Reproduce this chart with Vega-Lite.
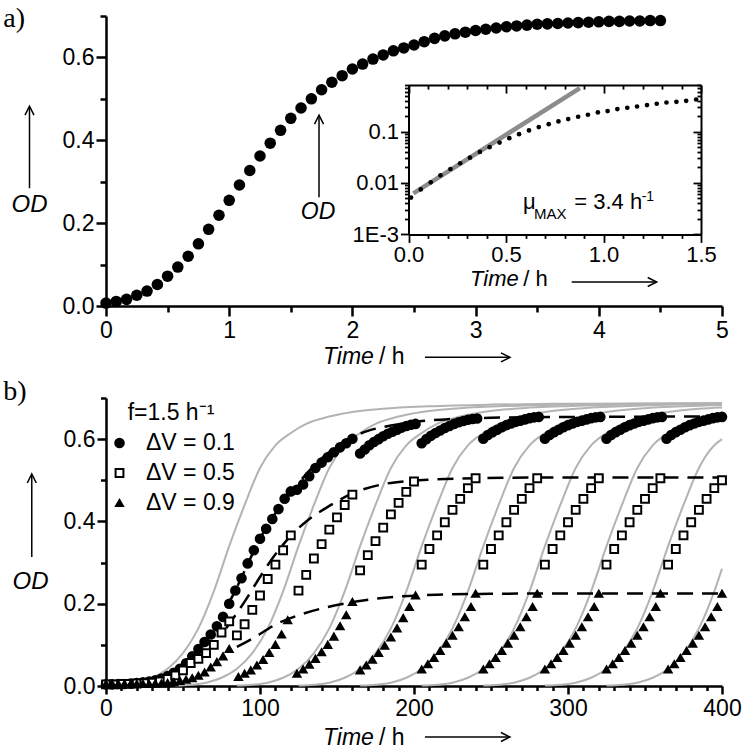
{
"$schema":"https://vega.github.io/schema/vega-lite/v6.json",
"background":"white",
"padding":{"left":3,"top":5,"right":0,"bottom":0},
"spacing":8,
"resolve":{"scale":{"shape":"independent","fill":"independent","size":"independent","stroke":"independent"},"legend":{"shape":"independent","fill":"independent","size":"independent","stroke":"independent"}},
"config":{
 "view":{"stroke":null},
 "axis":{"domainColor":"black","domainWidth":2.5,"tickColor":"black","tickWidth":2.5,"labelColor":"black","labelFont":"Liberation Sans","labelFontSize":23,"grid":false,"labelFlush":false,"labelOverlap":false,"labelPadding":2},
 "legend":{"titleFont":"Liberation Sans","titleFontSize":23,"titleFontWeight":"normal","titleColor":"black","labelFont":"Liberation Sans","labelFontSize":23,"labelColor":"black","symbolStrokeColor":"black","symbolStrokeWidth":2,"rowPadding":6,"titlePadding":7,"labelOffset":15,"padding":0}
},
"datasets":{
"main":[{"t":0,"od":0.007},{"t":0.083,"od":0.011},{"t":0.167,"od":0.016},{"t":0.25,"od":0.026},{"t":0.333,"od":0.036},{"t":0.417,"od":0.052},{"t":0.5,"od":0.072},{"t":0.583,"od":0.094},{"t":0.667,"od":0.12},{"t":0.75,"od":0.15},{"t":0.833,"od":0.185},{"t":0.917,"od":0.219},{"t":1,"od":0.255},{"t":1.083,"od":0.292},{"t":1.167,"od":0.327},{"t":1.25,"od":0.362},{"t":1.333,"od":0.393},{"t":1.417,"od":0.424},{"t":1.5,"od":0.453},{"t":1.583,"od":0.478},{"t":1.667,"od":0.5},{"t":1.75,"od":0.522},{"t":1.833,"od":0.54},{"t":1.917,"od":0.556},{"t":2,"od":0.572},{"t":2.083,"od":0.584},{"t":2.167,"od":0.596},{"t":2.25,"od":0.606},{"t":2.333,"od":0.616},{"t":2.417,"od":0.623},{"t":2.5,"od":0.63},{"t":2.583,"od":0.638},{"t":2.667,"od":0.646},{"t":2.75,"od":0.652},{"t":2.833,"od":0.657},{"t":2.917,"od":0.661},{"t":3,"od":0.665},{"t":3.083,"od":0.668},{"t":3.167,"od":0.671},{"t":3.25,"od":0.674},{"t":3.333,"od":0.676},{"t":3.417,"od":0.678},{"t":3.5,"od":0.68},{"t":3.583,"od":0.681},{"t":3.667,"od":0.682},{"t":3.75,"od":0.683},{"t":3.833,"od":0.684},{"t":3.917,"od":0.685},{"t":4,"od":0.686},{"t":4.083,"od":0.687},{"t":4.167,"od":0.687},{"t":4.25,"od":0.688},{"t":4.333,"od":0.688},{"t":4.417,"od":0.689},{"t":4.5,"od":0.689}],
"inset":[{"t":0.013,"od":0.0052},{"t":0.063,"od":0.0075},{"t":0.114,"od":0.0103},{"t":0.164,"od":0.0141},{"t":0.215,"od":0.0187},{"t":0.265,"od":0.0242},{"t":0.315,"od":0.0311},{"t":0.366,"od":0.0402},{"t":0.416,"od":0.0497},{"t":0.467,"od":0.0611},{"t":0.517,"od":0.0743},{"t":0.567,"od":0.0889},{"t":0.618,"od":0.105},{"t":0.668,"od":0.122},{"t":0.719,"od":0.139},{"t":0.769,"od":0.157},{"t":0.819,"od":0.175},{"t":0.87,"od":0.194},{"t":0.92,"od":0.212},{"t":0.971,"od":0.235},{"t":1.021,"od":0.25},{"t":1.071,"od":0.274},{"t":1.122,"od":0.29},{"t":1.172,"od":0.307},{"t":1.223,"od":0.327},{"t":1.273,"od":0.347},{"t":1.323,"od":0.367},{"t":1.374,"od":0.379},{"t":1.424,"od":0.396},{"t":1.475,"od":0.42}],
"fit":[{"t":0.025,"od":0.0063},{"t":0.879,"od":0.7}],
"gray":[
{"c":0,"t":0,"od":0.001},{"c":0,"t":10,"od":0.003},{"c":0,"t":20,"od":0.008},{"c":0,"t":30,"od":0.02},{"c":0,"t":40,"od":0.042},{"c":0,"t":50,"od":0.08},{"c":0,"t":60,"od":0.14},{"c":0,"t":70,"od":0.23},{"c":0,"t":80,"od":0.34},{"c":0,"t":90,"od":0.44},{"c":0,"t":100,"od":0.53},{"c":0,"t":110,"od":0.585},{"c":0,"t":120,"od":0.615},{"c":0,"t":130,"od":0.637},{"c":0,"t":145,"od":0.655},{"c":0,"t":160,"od":0.666},{"c":0,"t":180,"od":0.674},{"c":0,"t":210,"od":0.68},{"c":0,"t":250,"od":0.684},{"c":0,"t":300,"od":0.686},{"c":0,"t":400,"od":0.687},
{"c":1,"t":45,"od":0.001},{"c":1,"t":55,"od":0.003},{"c":1,"t":65,"od":0.008},{"c":1,"t":75,"od":0.02},{"c":1,"t":85,"od":0.042},{"c":1,"t":95,"od":0.08},{"c":1,"t":105,"od":0.14},{"c":1,"t":115,"od":0.23},{"c":1,"t":125,"od":0.34},{"c":1,"t":135,"od":0.44},{"c":1,"t":145,"od":0.53},{"c":1,"t":155,"od":0.585},{"c":1,"t":165,"od":0.615},{"c":1,"t":175,"od":0.637},{"c":1,"t":190,"od":0.655},{"c":1,"t":205,"od":0.666},{"c":1,"t":225,"od":0.674},{"c":1,"t":255,"od":0.68},{"c":1,"t":295,"od":0.684},{"c":1,"t":345,"od":0.686},{"c":1,"t":400,"od":0.687},
{"c":2,"t":85,"od":0.001},{"c":2,"t":95,"od":0.003},{"c":2,"t":105,"od":0.008},{"c":2,"t":115,"od":0.02},{"c":2,"t":125,"od":0.042},{"c":2,"t":135,"od":0.08},{"c":2,"t":145,"od":0.14},{"c":2,"t":155,"od":0.23},{"c":2,"t":165,"od":0.34},{"c":2,"t":175,"od":0.44},{"c":2,"t":185,"od":0.53},{"c":2,"t":195,"od":0.585},{"c":2,"t":205,"od":0.615},{"c":2,"t":215,"od":0.637},{"c":2,"t":230,"od":0.655},{"c":2,"t":245,"od":0.666},{"c":2,"t":265,"od":0.674},{"c":2,"t":295,"od":0.68},{"c":2,"t":335,"od":0.684},{"c":2,"t":385,"od":0.686},{"c":2,"t":400,"od":0.686},
{"c":3,"t":125,"od":0.001},{"c":3,"t":135,"od":0.003},{"c":3,"t":145,"od":0.008},{"c":3,"t":155,"od":0.02},{"c":3,"t":165,"od":0.042},{"c":3,"t":175,"od":0.08},{"c":3,"t":185,"od":0.14},{"c":3,"t":195,"od":0.23},{"c":3,"t":205,"od":0.34},{"c":3,"t":215,"od":0.44},{"c":3,"t":225,"od":0.53},{"c":3,"t":235,"od":0.585},{"c":3,"t":245,"od":0.615},{"c":3,"t":255,"od":0.637},{"c":3,"t":270,"od":0.655},{"c":3,"t":285,"od":0.666},{"c":3,"t":305,"od":0.674},{"c":3,"t":335,"od":0.68},{"c":3,"t":375,"od":0.684},{"c":3,"t":400,"od":0.685},
{"c":4,"t":165,"od":0.001},{"c":4,"t":175,"od":0.003},{"c":4,"t":185,"od":0.008},{"c":4,"t":195,"od":0.02},{"c":4,"t":205,"od":0.042},{"c":4,"t":215,"od":0.08},{"c":4,"t":225,"od":0.14},{"c":4,"t":235,"od":0.23},{"c":4,"t":245,"od":0.34},{"c":4,"t":255,"od":0.44},{"c":4,"t":265,"od":0.53},{"c":4,"t":275,"od":0.585},{"c":4,"t":285,"od":0.615},{"c":4,"t":295,"od":0.637},{"c":4,"t":310,"od":0.655},{"c":4,"t":325,"od":0.666},{"c":4,"t":345,"od":0.674},{"c":4,"t":375,"od":0.68},{"c":4,"t":400,"od":0.683},
{"c":5,"t":205,"od":0.001},{"c":5,"t":215,"od":0.003},{"c":5,"t":225,"od":0.008},{"c":5,"t":235,"od":0.02},{"c":5,"t":245,"od":0.042},{"c":5,"t":255,"od":0.08},{"c":5,"t":265,"od":0.14},{"c":5,"t":275,"od":0.23},{"c":5,"t":285,"od":0.34},{"c":5,"t":295,"od":0.44},{"c":5,"t":305,"od":0.53},{"c":5,"t":315,"od":0.585},{"c":5,"t":325,"od":0.615},{"c":5,"t":335,"od":0.637},{"c":5,"t":350,"od":0.655},{"c":5,"t":365,"od":0.666},{"c":5,"t":385,"od":0.674},{"c":5,"t":400,"od":0.677},
{"c":6,"t":245,"od":0.001},{"c":6,"t":255,"od":0.003},{"c":6,"t":265,"od":0.008},{"c":6,"t":275,"od":0.02},{"c":6,"t":285,"od":0.042},{"c":6,"t":295,"od":0.08},{"c":6,"t":305,"od":0.14},{"c":6,"t":315,"od":0.23},{"c":6,"t":325,"od":0.34},{"c":6,"t":335,"od":0.44},{"c":6,"t":345,"od":0.53},{"c":6,"t":355,"od":0.585},{"c":6,"t":365,"od":0.615},{"c":6,"t":375,"od":0.637},{"c":6,"t":390,"od":0.655},{"c":6,"t":400,"od":0.662},
{"c":7,"t":285,"od":0.001},{"c":7,"t":295,"od":0.003},{"c":7,"t":305,"od":0.008},{"c":7,"t":315,"od":0.02},{"c":7,"t":325,"od":0.042},{"c":7,"t":335,"od":0.08},{"c":7,"t":345,"od":0.14},{"c":7,"t":355,"od":0.23},{"c":7,"t":365,"od":0.34},{"c":7,"t":375,"od":0.44},{"c":7,"t":385,"od":0.53},{"c":7,"t":395,"od":0.585},{"c":7,"t":400,"od":0.6},
{"c":8,"t":325,"od":0.001},{"c":8,"t":335,"od":0.003},{"c":8,"t":345,"od":0.008},{"c":8,"t":355,"od":0.02},{"c":8,"t":365,"od":0.042},{"c":8,"t":375,"od":0.08},{"c":8,"t":385,"od":0.14},{"c":8,"t":395,"od":0.23},{"c":8,"t":400,"od":0.285}
],
"dash":[
{"d":1,"t":78,"od":0.19},{"d":1,"t":84,"od":0.232},{"d":1,"t":90,"od":0.28},{"d":1,"t":100,"od":0.358},{"d":1,"t":110,"od":0.42},{"d":1,"t":120,"od":0.47},{"d":1,"t":130,"od":0.515},{"d":1,"t":140,"od":0.553},{"d":1,"t":150,"od":0.583},{"d":1,"t":160,"od":0.605},{"d":1,"t":170,"od":0.62},{"d":1,"t":185,"od":0.633},{"d":1,"t":200,"od":0.642},{"d":1,"t":220,"od":0.648},{"d":1,"t":250,"od":0.652},{"d":1,"t":300,"od":0.654},{"d":1,"t":400,"od":0.655},
{"d":2,"t":78,"od":0.14},{"d":2,"t":90,"od":0.205},{"d":2,"t":100,"od":0.265},{"d":2,"t":110,"od":0.32},{"d":2,"t":120,"od":0.365},{"d":2,"t":130,"od":0.4},{"d":2,"t":143,"od":0.433},{"d":2,"t":160,"od":0.468},{"d":2,"t":178,"od":0.489},{"d":2,"t":195,"od":0.498},{"d":2,"t":213,"od":0.502},{"d":2,"t":240,"od":0.505},{"d":2,"t":300,"od":0.507},{"d":2,"t":400,"od":0.507},
{"d":3,"t":85,"od":0.095},{"d":3,"t":95,"od":0.115},{"d":3,"t":111,"od":0.151},{"d":3,"t":125,"od":0.172},{"d":3,"t":143,"od":0.191},{"d":3,"t":167,"od":0.208},{"d":3,"t":189,"od":0.217},{"d":3,"t":215,"od":0.222},{"d":3,"t":250,"od":0.224},{"d":3,"t":300,"od":0.225},{"d":3,"t":400,"od":0.225}
],
"pts":[
{"s":"0.1","t":0,"od":0.004},{"s":"0.1","t":4,"od":0.004},{"s":"0.1","t":8,"od":0.005},{"s":"0.1","t":12,"od":0.005},{"s":"0.1","t":16,"od":0.006},{"s":"0.1","t":20,"od":0.007},{"s":"0.1","t":24,"od":0.009},{"s":"0.1","t":28,"od":0.011},{"s":"0.1","t":32,"od":0.014},{"s":"0.1","t":36,"od":0.018},{"s":"0.1","t":40,"od":0.024},{"s":"0.1","t":44,"od":0.032},{"s":"0.1","t":48,"od":0.042},{"s":"0.1","t":52,"od":0.055},{"s":"0.1","t":56,"od":0.072},{"s":"0.1","t":60,"od":0.09},{"s":"0.1","t":64,"od":0.107},{"s":"0.1","t":68,"od":0.125},{"s":"0.1","t":72,"od":0.145},{"s":"0.1","t":76,"od":0.168},{"s":"0.1","t":80,"od":0.2},{"s":"0.1","t":84,"od":0.232},{"s":"0.1","t":88,"od":0.262},{"s":"0.1","t":92,"od":0.298},{"s":"0.1","t":96,"od":0.33},{"s":"0.1","t":100,"od":0.358},{"s":"0.1","t":104,"od":0.382},{"s":"0.1","t":108,"od":0.406},{"s":"0.1","t":112,"od":0.43},{"s":"0.1","t":116,"od":0.455},{"s":"0.1","t":120,"od":0.473},{"s":"0.1","t":124,"od":0.477},{"s":"0.1","t":128,"od":0.49},{"s":"0.1","t":132,"od":0.51},{"s":"0.1","t":136,"od":0.53},{"s":"0.1","t":140,"od":0.543},{"s":"0.1","t":144,"od":0.556},{"s":"0.1","t":148,"od":0.568},{"s":"0.1","t":152,"od":0.58},{"s":"0.1","t":156,"od":0.59},{"s":"0.1","t":160,"od":0.601},
{"s":"0.1","t":165,"od":0.565},{"s":"0.1","t":168,"od":0.575},{"s":"0.1","t":171,"od":0.585},{"s":"0.1","t":174,"od":0.593},{"s":"0.1","t":177,"od":0.6},{"s":"0.1","t":180,"od":0.607},{"s":"0.1","t":183,"od":0.613},{"s":"0.1","t":186,"od":0.618},{"s":"0.1","t":189,"od":0.623},{"s":"0.1","t":192,"od":0.628},{"s":"0.1","t":195,"od":0.632},{"s":"0.1","t":198,"od":0.635},{"s":"0.1","t":201,"od":0.637},
{"s":"0.1","t":205,"od":0.59},{"s":"0.1","t":208,"od":0.6},{"s":"0.1","t":211,"od":0.608},{"s":"0.1","t":214,"od":0.615},{"s":"0.1","t":217,"od":0.621},{"s":"0.1","t":220,"od":0.627},{"s":"0.1","t":223,"od":0.632},{"s":"0.1","t":226,"od":0.637},{"s":"0.1","t":229,"od":0.641},{"s":"0.1","t":232,"od":0.644},{"s":"0.1","t":235,"od":0.647},{"s":"0.1","t":238,"od":0.649},{"s":"0.1","t":241,"od":0.65},
{"s":"0.1","t":245,"od":0.601},{"s":"0.1","t":248,"od":0.61},{"s":"0.1","t":251,"od":0.617},{"s":"0.1","t":254,"od":0.623},{"s":"0.1","t":257,"od":0.629},{"s":"0.1","t":260,"od":0.634},{"s":"0.1","t":263,"od":0.638},{"s":"0.1","t":266,"od":0.642},{"s":"0.1","t":269,"od":0.645},{"s":"0.1","t":272,"od":0.648},{"s":"0.1","t":275,"od":0.651},{"s":"0.1","t":278,"od":0.653},{"s":"0.1","t":281,"od":0.654},
{"s":"0.1","t":285,"od":0.601},{"s":"0.1","t":288,"od":0.61},{"s":"0.1","t":291,"od":0.617},{"s":"0.1","t":294,"od":0.623},{"s":"0.1","t":297,"od":0.629},{"s":"0.1","t":300,"od":0.634},{"s":"0.1","t":303,"od":0.638},{"s":"0.1","t":306,"od":0.642},{"s":"0.1","t":309,"od":0.645},{"s":"0.1","t":312,"od":0.648},{"s":"0.1","t":315,"od":0.651},{"s":"0.1","t":318,"od":0.653},{"s":"0.1","t":321,"od":0.654},
{"s":"0.1","t":325,"od":0.601},{"s":"0.1","t":328,"od":0.61},{"s":"0.1","t":331,"od":0.617},{"s":"0.1","t":334,"od":0.623},{"s":"0.1","t":337,"od":0.629},{"s":"0.1","t":340,"od":0.634},{"s":"0.1","t":343,"od":0.638},{"s":"0.1","t":346,"od":0.642},{"s":"0.1","t":349,"od":0.645},{"s":"0.1","t":352,"od":0.648},{"s":"0.1","t":355,"od":0.651},{"s":"0.1","t":358,"od":0.653},{"s":"0.1","t":361,"od":0.654},
{"s":"0.1","t":364,"od":0.601},{"s":"0.1","t":367,"od":0.61},{"s":"0.1","t":370,"od":0.617},{"s":"0.1","t":373,"od":0.623},{"s":"0.1","t":376,"od":0.629},{"s":"0.1","t":379,"od":0.634},{"s":"0.1","t":382,"od":0.638},{"s":"0.1","t":385,"od":0.642},{"s":"0.1","t":388,"od":0.645},{"s":"0.1","t":391,"od":0.648},{"s":"0.1","t":394,"od":0.651},{"s":"0.1","t":397,"od":0.653},{"s":"0.1","t":400,"od":0.654},
{"s":"0.5","t":0,"od":0.004},{"s":"0.5","t":5,"od":0.004},{"s":"0.5","t":10,"od":0.005},{"s":"0.5","t":15,"od":0.005},{"s":"0.5","t":20,"od":0.006},{"s":"0.5","t":25,"od":0.007},{"s":"0.5","t":30,"od":0.008},{"s":"0.5","t":35,"od":0.011},{"s":"0.5","t":40,"od":0.017},{"s":"0.5","t":45,"od":0.026},{"s":"0.5","t":50,"od":0.038},{"s":"0.5","t":55,"od":0.056},{"s":"0.5","t":60,"od":0.066},{"s":"0.5","t":65,"od":0.08},{"s":"0.5","t":70,"od":0.1},{"s":"0.5","t":75,"od":0.13},{"s":"0.5","t":80,"od":0.157},
{"s":"0.5","t":85,"od":0.123},{"s":"0.5","t":90,"od":0.15},{"s":"0.5","t":95,"od":0.185},{"s":"0.5","t":100,"od":0.22},{"s":"0.5","t":105,"od":0.26},{"s":"0.5","t":110,"od":0.295},{"s":"0.5","t":115,"od":0.33},{"s":"0.5","t":120,"od":0.366},
{"s":"0.5","t":125,"od":0.232},{"s":"0.5","t":130,"od":0.27},{"s":"0.5","t":135,"od":0.31},{"s":"0.5","t":140,"od":0.345},{"s":"0.5","t":145,"od":0.38},{"s":"0.5","t":150,"od":0.41},{"s":"0.5","t":155,"od":0.44},{"s":"0.5","t":160,"od":0.465},
{"s":"0.5","t":165,"od":0.281},{"s":"0.5","t":170,"od":0.318},{"s":"0.5","t":175,"od":0.352},{"s":"0.5","t":180,"od":0.385},{"s":"0.5","t":185,"od":0.417},{"s":"0.5","t":190,"od":0.445},{"s":"0.5","t":195,"od":0.472},{"s":"0.5","t":200,"od":0.497},
{"s":"0.5","t":205,"od":0.295},{"s":"0.5","t":210,"od":0.333},{"s":"0.5","t":215,"od":0.366},{"s":"0.5","t":220,"od":0.398},{"s":"0.5","t":225,"od":0.428},{"s":"0.5","t":230,"od":0.455},{"s":"0.5","t":235,"od":0.481},{"s":"0.5","t":240,"od":0.505},
{"s":"0.5","t":245,"od":0.295},{"s":"0.5","t":250,"od":0.333},{"s":"0.5","t":255,"od":0.366},{"s":"0.5","t":260,"od":0.398},{"s":"0.5","t":265,"od":0.428},{"s":"0.5","t":270,"od":0.455},{"s":"0.5","t":275,"od":0.481},{"s":"0.5","t":280,"od":0.505},
{"s":"0.5","t":285,"od":0.295},{"s":"0.5","t":290,"od":0.333},{"s":"0.5","t":295,"od":0.366},{"s":"0.5","t":300,"od":0.398},{"s":"0.5","t":305,"od":0.428},{"s":"0.5","t":310,"od":0.455},{"s":"0.5","t":315,"od":0.481},{"s":"0.5","t":320,"od":0.505},
{"s":"0.5","t":325,"od":0.295},{"s":"0.5","t":330,"od":0.333},{"s":"0.5","t":335,"od":0.366},{"s":"0.5","t":340,"od":0.398},{"s":"0.5","t":345,"od":0.428},{"s":"0.5","t":350,"od":0.455},{"s":"0.5","t":355,"od":0.481},{"s":"0.5","t":360,"od":0.505},
{"s":"0.5","t":365,"od":0.295},{"s":"0.5","t":370,"od":0.333},{"s":"0.5","t":375,"od":0.366},{"s":"0.5","t":380,"od":0.398},{"s":"0.5","t":385,"od":0.428},{"s":"0.5","t":390,"od":0.455},{"s":"0.5","t":395,"od":0.481},{"s":"0.5","t":400,"od":0.5},
{"s":"0.9","t":0,"od":0.005},{"s":"0.9","t":4,"od":0.005},{"s":"0.9","t":8,"od":0.005},{"s":"0.9","t":12,"od":0.005},{"s":"0.9","t":16,"od":0.005},{"s":"0.9","t":20,"od":0.005},{"s":"0.9","t":24,"od":0.005},{"s":"0.9","t":28,"od":0.005},{"s":"0.9","t":32,"od":0.006},{"s":"0.9","t":36,"od":0.006},{"s":"0.9","t":40,"od":0.007},{"s":"0.9","t":44,"od":0.009},{"s":"0.9","t":48,"od":0.012},{"s":"0.9","t":52,"od":0.015},{"s":"0.9","t":56,"od":0.019},{"s":"0.9","t":60,"od":0.025},{"s":"0.9","t":64,"od":0.033},{"s":"0.9","t":68,"od":0.045},{"s":"0.9","t":72,"od":0.058},{"s":"0.9","t":76,"od":0.072},{"s":"0.9","t":80,"od":0.09},
{"s":"0.9","t":86,"od":0.022},{"s":"0.9","t":90,"od":0.03},{"s":"0.9","t":94,"od":0.038},{"s":"0.9","t":98,"od":0.05},{"s":"0.9","t":102,"od":0.063},{"s":"0.9","t":106,"od":0.08},{"s":"0.9","t":110,"od":0.1},{"s":"0.9","t":114,"od":0.125},{"s":"0.9","t":118,"od":0.16},
{"s":"0.9","t":124,"od":0.03},{"s":"0.9","t":128,"od":0.04},{"s":"0.9","t":132,"od":0.052},{"s":"0.9","t":136,"od":0.066},{"s":"0.9","t":140,"od":0.082},{"s":"0.9","t":144,"od":0.1},{"s":"0.9","t":148,"od":0.12},{"s":"0.9","t":152,"od":0.145},{"s":"0.9","t":156,"od":0.172},{"s":"0.9","t":160,"od":0.204},
{"s":"0.9","t":165,"od":0.038},{"s":"0.9","t":169,"od":0.05},{"s":"0.9","t":173,"od":0.064},{"s":"0.9","t":177,"od":0.08},{"s":"0.9","t":181,"od":0.098},{"s":"0.9","t":185,"od":0.118},{"s":"0.9","t":189,"od":0.14},{"s":"0.9","t":193,"od":0.165},{"s":"0.9","t":197,"od":0.192},{"s":"0.9","t":201,"od":0.22},
{"s":"0.9","t":205,"od":0.04},{"s":"0.9","t":209,"od":0.053},{"s":"0.9","t":213,"od":0.068},{"s":"0.9","t":217,"od":0.085},{"s":"0.9","t":221,"od":0.103},{"s":"0.9","t":225,"od":0.122},{"s":"0.9","t":229,"od":0.143},{"s":"0.9","t":233,"od":0.167},{"s":"0.9","t":237,"od":0.192},{"s":"0.9","t":240,"od":0.224},
{"s":"0.9","t":245,"od":0.04},{"s":"0.9","t":249,"od":0.053},{"s":"0.9","t":253,"od":0.068},{"s":"0.9","t":257,"od":0.085},{"s":"0.9","t":261,"od":0.103},{"s":"0.9","t":265,"od":0.122},{"s":"0.9","t":269,"od":0.143},{"s":"0.9","t":273,"od":0.167},{"s":"0.9","t":277,"od":0.192},{"s":"0.9","t":280,"od":0.224},
{"s":"0.9","t":285,"od":0.04},{"s":"0.9","t":289,"od":0.053},{"s":"0.9","t":293,"od":0.068},{"s":"0.9","t":297,"od":0.085},{"s":"0.9","t":301,"od":0.103},{"s":"0.9","t":305,"od":0.122},{"s":"0.9","t":309,"od":0.143},{"s":"0.9","t":313,"od":0.167},{"s":"0.9","t":317,"od":0.192},{"s":"0.9","t":320,"od":0.224},
{"s":"0.9","t":325,"od":0.04},{"s":"0.9","t":329,"od":0.053},{"s":"0.9","t":333,"od":0.068},{"s":"0.9","t":337,"od":0.085},{"s":"0.9","t":341,"od":0.103},{"s":"0.9","t":345,"od":0.122},{"s":"0.9","t":349,"od":0.143},{"s":"0.9","t":353,"od":0.167},{"s":"0.9","t":357,"od":0.192},{"s":"0.9","t":360,"od":0.224},
{"s":"0.9","t":365,"od":0.04},{"s":"0.9","t":369,"od":0.053},{"s":"0.9","t":373,"od":0.068},{"s":"0.9","t":377,"od":0.085},{"s":"0.9","t":381,"od":0.103},{"s":"0.9","t":385,"od":0.122},{"s":"0.9","t":389,"od":0.143},{"s":"0.9","t":393,"od":0.167},{"s":"0.9","t":397,"od":0.192},{"s":"0.9","t":400,"od":0.224}
]
},
"vconcat":[
{
 "width":616,"height":290,
 "resolve":{"scale":{"x":"independent","y":"independent"},"axis":{"x":"independent","y":"independent"}},
 "layer":[
  {"layer":[
   {"data":{"name":"main"},"mark":{"type":"point","filled":true,"color":"black","size":133,"opacity":1},
    "encoding":{
     "x":{"field":"t","type":"quantitative","scale":{"domain":[0,5],"nice":false},"axis":{"title":null,"labelOverlap":false,"values":[0,0.5,1,1.5,2,2.5,3,3.5,4,4.5,5],"labelExpr":"datum.value % 1 == 0 ? format(datum.value,'d') : ''","tickSize":{"condition":{"test":"datum.value % 1 == 0","value":10},"value":6},"labelPadding":3}},
     "y":{"field":"od","type":"quantitative","scale":{"domain":[0,0.7],"nice":false},"axis":{"title":null,"labelOverlap":false,"values":[0,0.05,0.1,0.15,0.2,0.25,0.3,0.35,0.4,0.45,0.5,0.55,0.6,0.65,0.7],"labelExpr":"abs(datum.value*5-round(datum.value*5))<0.001 ? format(datum.value,'.1f') : ''","tickSize":{"condition":{"test":"abs(datum.value*5-round(datum.value*5))<0.001","value":10},"value":6},"labelPadding":2}}}},
   {"data":{"values":[{}]},"mark":{"type":"text","text":"a)","font":"Liberation Serif","fontSize":28,"align":"left","baseline":"middle","color":"black"},"encoding":{"x":{"datum":-0.834},"y":{"datum":0.6925}}},
   {"data":{"values":[{}]},"mark":{"type":"text","text":"OD","font":"Liberation Sans","fontSize":24,"fontStyle":"italic","align":"center","baseline":"middle","color":"black"},"encoding":{"x":{"datum":-0.621},"y":{"datum":0.2432}}},
   {"data":{"values":[{}]},"mark":{"type":"rule","color":"black","strokeWidth":1.5},"encoding":{"x":{"datum":-0.621},"y":{"datum":0.2843},"y2":{"datum":0.48}}},
   {"data":{"values":[{}]},"mark":{"type":"point","shape":"M-0.5,1L0,0L0.5,1","size":324,"filled":false,"stroke":"black","strokeWidth":1.5,"opacity":1},"encoding":{"x":{"datum":-0.621},"y":{"datum":0.4824}}},
   {"data":{"values":[{}]},"mark":{"type":"text","text":"Time","font":"Liberation Sans","fontSize":23,"fontStyle":"italic","align":"left","baseline":"middle","color":"black"},"encoding":{"x":{"datum":1.761},"y":{"datum":-0.124}}},
   {"data":{"values":[{}]},"mark":{"type":"text","text":"/ h","font":"Liberation Sans","fontSize":23,"align":"left","baseline":"middle","color":"black"},"encoding":{"x":{"datum":2.216},"y":{"datum":-0.124}}},
   {"data":{"values":[{}]},"mark":{"type":"rule","color":"black","strokeWidth":1.5},"encoding":{"x":{"datum":2.589},"x2":{"datum":3.275},"y":{"datum":-0.124}}},
   {"data":{"values":[{}]},"mark":{"type":"point","shape":"M-1,-0.5L0,0L-1,0.5","size":324,"filled":false,"stroke":"black","strokeWidth":1.5,"opacity":1},"encoding":{"x":{"datum":3.279},"y":{"datum":-0.124}}},
   {"data":{"values":[{}]},"mark":{"type":"text","text":"OD","font":"Liberation Sans","fontSize":23,"fontStyle":"italic","align":"center","baseline":"middle","color":"black"},"encoding":{"x":{"datum":1.721},"y":{"datum":0.2263}}},
   {"data":{"values":[{}]},"mark":{"type":"rule","color":"black","strokeWidth":1.5},"encoding":{"x":{"datum":1.729},"y":{"datum":0.2626},"y2":{"datum":0.458}}},
   {"data":{"values":[{}]},"mark":{"type":"point","shape":"M-0.5,1L0,0L0.5,1","size":324,"filled":false,"stroke":"black","strokeWidth":1.5,"opacity":1},"encoding":{"x":{"datum":1.729},"y":{"datum":0.4606}}},
   {"data":{"values":[{}]},"mark":{"type":"text","text":"Time","font":"Liberation Sans","fontSize":22,"fontStyle":"italic","align":"left","baseline":"middle","color":"black"},"encoding":{"x":{"datum":2.955},"y":{"datum":0.0645}}},
   {"data":{"values":[{}]},"mark":{"type":"text","text":"/ h","font":"Liberation Sans","fontSize":22,"align":"left","baseline":"middle","color":"black"},"encoding":{"x":{"datum":3.387},"y":{"datum":0.0645}}},
   {"data":{"values":[{}]},"mark":{"type":"rule","color":"black","strokeWidth":1.5},"encoding":{"x":{"datum":3.78},"x2":{"datum":4.466},"y":{"datum":0.058}}},
   {"data":{"values":[{}]},"mark":{"type":"point","shape":"M-1,-0.5L0,0L-1,0.5","size":324,"filled":false,"stroke":"black","strokeWidth":1.5,"opacity":1},"encoding":{"x":{"datum":4.47},"y":{"datum":0.058}}},
   {"data":{"values":[{}]},"mark":{"type":"text","text":"μ","font":"Liberation Sans","fontSize":22,"align":"left","baseline":"alphabetic","color":"black"},"encoding":{"x":{"datum":3.385},"y":{"datum":0.2336}}},
   {"data":{"values":[{}]},"mark":{"type":"text","text":"MAX","font":"Liberation Sans","fontSize":15,"align":"left","baseline":"alphabetic","color":"black"},"encoding":{"x":{"datum":3.474},"y":{"datum":0.2111}}},
   {"data":{"values":[{}]},"mark":{"type":"text","text":"= 3.4 h","font":"Liberation Sans","fontSize":22,"align":"left","baseline":"alphabetic","color":"black"},"encoding":{"x":{"datum":3.801},"y":{"datum":0.2353}}},
   {"data":{"values":[{}]},"mark":{"type":"text","text":"-1","font":"Liberation Sans","fontSize":14,"align":"left","baseline":"alphabetic","color":"black"},"encoding":{"x":{"datum":4.348},"y":{"datum":0.2536}}}
  ]},
  {"resolve":{"axis":{"x":"independent","y":"independent"}},
   "layer":[
   {"data":{"name":"fit"},"mark":{"type":"line","color":"#8c8c8c","strokeWidth":4.5},
    "encoding":{
     "x":{"field":"t","type":"quantitative","scale":{"domain":[0,1.5],"range":[302.5,595],"nice":false},"axis":{"title":null,"labelOverlap":false,"orient":"bottom","offset":-71.6,"values":[0,0.1,0.2,0.3,0.4,0.5,0.6,0.7,0.8,0.9,1,1.1,1.2,1.3,1.4,1.5],"labelExpr":"abs(datum.value*2-round(datum.value*2))<0.001 ? format(datum.value,'.1f') : ''","tickSize":{"condition":{"test":"abs(datum.value*2-round(datum.value*2))<0.001","value":8},"value":4},"labelFontSize":22,"domainWidth":2,"tickWidth":1.8,"labelPadding":2}},
     "y":{"field":"od","type":"quantitative","scale":{"type":"log","domain":[0.001,0.8],"range":[218.4,69.1],"nice":false},"axis":{"title":null,"labelOverlap":false,"orient":"left","offset":-302.5,"values":[0.001,0.002,0.003,0.004,0.005,0.006,0.007,0.008,0.009,0.01,0.02,0.03,0.04,0.05,0.06,0.07,0.08,0.09,0.1,0.2,0.3,0.4,0.5,0.6,0.7,0.8],"labelExpr":"abs(log(datum.value)/LN10-round(log(datum.value)/LN10))<0.001 ? (datum.value<0.0015 ? '1E-3' : (datum.value<0.015 ? '0.01' : '0.1')) : ''","tickSize":{"condition":{"test":"abs(log(datum.value)/LN10-round(log(datum.value)/LN10))<0.001","value":8},"value":4},"labelFontSize":22,"domainWidth":2,"tickWidth":1.8,"labelPadding":2}}}},
   {"data":{"name":"inset"},"mark":{"type":"circle","color":"black","size":22,"opacity":1},
    "encoding":{
     "x":{"field":"t","type":"quantitative","scale":{"domain":[0,1.5],"range":[302.5,595],"nice":false},"axis":{"title":null,"orient":"top","offset":-69.1,"values":[0,0.1,0.2,0.3,0.4,0.5,0.6,0.7,0.8,0.9,1,1.1,1.2,1.3,1.4,1.5],"labels":false,"tickSize":{"condition":{"test":"abs(datum.value*2-round(datum.value*2))<0.001","value":-8},"value":-4},"domainWidth":2,"tickWidth":1.8}},
     "y":{"field":"od","type":"quantitative","scale":{"type":"log","domain":[0.001,0.8],"range":[218.4,69.1],"nice":false},"axis":{"title":null,"orient":"right","offset":-21,"values":[0.001,0.002,0.003,0.004,0.005,0.006,0.007,0.008,0.009,0.01,0.02,0.03,0.04,0.05,0.06,0.07,0.08,0.09,0.1,0.2,0.3,0.4,0.5,0.6,0.7,0.8],"labels":false,"tickSize":{"condition":{"test":"abs(log(datum.value)/LN10-round(log(datum.value)/LN10))<0.001","value":-8},"value":-4},"domainWidth":2,"tickWidth":1.8}}}}
  ]}
 ]
},
{
 "width":616,"height":288,
 "resolve":{"axis":{"x":"independent"}},
 "layer":[
  {"data":{"name":"gray"},"mark":{"type":"line","color":"#b3b3b3","strokeWidth":2,"interpolate":"monotone"},
   "encoding":{
    "x":{"field":"t","type":"quantitative","scale":{"domain":[0,400],"nice":false},"axis":{"title":null,"orient":"bottom","values":[0,100,200,300,400],"format":"d","tickSize":8,"labelPadding":3}},
    "y":{"field":"od","type":"quantitative","scale":{"domain":[0,0.7],"nice":false},"axis":{"title":null,"labelOverlap":false,"values":[0,0.05,0.1,0.15,0.2,0.25,0.3,0.35,0.4,0.45,0.5,0.55,0.6,0.65,0.7],"labelExpr":"abs(datum.value*5-round(datum.value*5))<0.001 ? format(datum.value,'.1f') : ''","tickSize":{"condition":{"test":"abs(datum.value*5-round(datum.value*5))<0.001","value":9},"value":5.5},"labelPadding":2}},
    "detail":{"field":"c","type":"nominal"}}},
  {"data":{"name":"dash"},"mark":{"type":"line","color":"black","strokeWidth":2.5,"strokeDash":[16,9],"interpolate":"monotone"},
   "encoding":{
    "x":{"field":"t","type":"quantitative","scale":{"domain":[0,400],"nice":false},"axis":{"title":null,"orient":"bottom","values":[10,20,30,40,50,60,70,80,90,110,120,130,140,150,160,170,180,190,210,220,230,240,250,260,270,280,290,310,320,330,340,350,360,370,380,390],"labels":false,"tickSize":4.5,"domain":false}},
    "y":{"field":"od","type":"quantitative","scale":{"domain":[0,0.7],"nice":false}},
    "detail":{"field":"d","type":"nominal"}}},
  {"data":{"name":"pts"},"mark":{"type":"point","strokeWidth":2,"opacity":1},
   "encoding":{
    "x":{"field":"t","type":"quantitative","scale":{"domain":[0,400],"nice":false},"axis":null},
    "y":{"field":"od","type":"quantitative","scale":{"domain":[0,0.7],"nice":false}},
    "shape":{"field":"s","type":"nominal","scale":{"domain":["0.1","0.5","0.9"],"range":["circle","square","triangle-up"]},"legend":{"title":"f=1.5 h⁻¹","orient":"none","legendX":2,"legendY":3.5,"titleAnchor":"middle","labelExpr":"'ΔV = ' + datum.label"}},
    "fill":{"field":"s","type":"nominal","scale":{"domain":["0.1","0.5","0.9"],"range":["black","white","black"]}},
    "stroke":{"field":"s","type":"nominal","scale":{"domain":["0.1","0.5","0.9"],"range":["black","black","black"]}},
    "size":{"field":"s","type":"nominal","scale":{"domain":["0.1","0.5","0.9"],"range":[74,49,90]}}}},
  {"data":{"values":[{}]},"mark":{"type":"text","text":"b)","font":"Liberation Serif","fontSize":28,"align":"left","baseline":"middle","color":"black"},"encoding":{"x":{"datum":-66.7,"axis":null},"y":{"datum":0.7145}}},
  {"data":{"values":[{}]},"mark":{"type":"text","text":"OD","font":"Liberation Sans","fontSize":24,"fontStyle":"italic","align":"center","baseline":"middle","color":"black"},"encoding":{"x":{"datum":-49,"axis":null},"y":{"datum":0.2527}}},
  {"data":{"values":[{}]},"mark":{"type":"rule","color":"black","strokeWidth":1.5},"encoding":{"x":{"datum":-48.2,"axis":null},"y":{"datum":0.3135},"y2":{"datum":0.512}}},
  {"data":{"values":[{}]},"mark":{"type":"point","shape":"M-0.5,1L0,0L0.5,1","size":324,"filled":false,"stroke":"black","strokeWidth":1.5,"opacity":1},"encoding":{"x":{"datum":-48.2,"axis":null},"y":{"datum":0.5152}}},
  {"data":{"values":[{}]},"mark":{"type":"text","text":"Time","font":"Liberation Sans","fontSize":23,"fontStyle":"italic","align":"left","baseline":"middle","color":"black"},"encoding":{"x":{"datum":140.9,"axis":null},"y":{"datum":-0.1264}}},
  {"data":{"values":[{}]},"mark":{"type":"text","text":"/ h","font":"Liberation Sans","fontSize":23,"align":"left","baseline":"middle","color":"black"},"encoding":{"x":{"datum":177.3,"axis":null},"y":{"datum":-0.1264}}},
  {"data":{"values":[{}]},"mark":{"type":"rule","color":"black","strokeWidth":1.5},"encoding":{"x":{"datum":207.1,"axis":null},"x2":{"datum":261.8},"y":{"datum":-0.1239}}},
  {"data":{"values":[{}]},"mark":{"type":"point","shape":"M-1,-0.5L0,0L-1,0.5","size":324,"filled":false,"stroke":"black","strokeWidth":1.5,"opacity":1},"encoding":{"x":{"datum":262.3,"axis":null},"y":{"datum":-0.1239}}}
 ]
}
]
}
